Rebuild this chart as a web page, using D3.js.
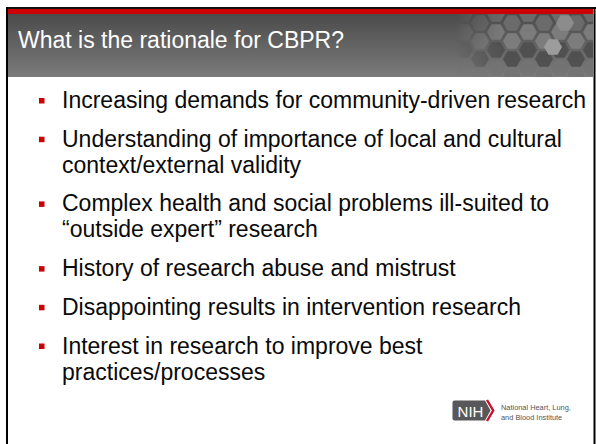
<!DOCTYPE html>
<html><head><meta charset="utf-8">
<script src="https://cdn.jsdelivr.net/npm/d3@7"></script>
<style>html,body{margin:0;padding:0;background:#fff;overflow:hidden}</style>
</head><body>
<svg id="s" width="596" height="444"></svg>
<script>
const title = "What is the rationale for CBPR?";
const bullets = [
  ["Increasing demands for community-driven research"],
  ["Understanding of importance of local and cultural", "context/external validity"],
  ["Complex health and social problems ill-suited to", "\u201Coutside expert\u201D research"],
  ["History of research abuse and mistrust"],
  ["Disappointing results in intervention research"],
  ["Interest in research to improve best", "practices/processes"]
];
const logoLines = ["National Heart, Lung,", "and Blood Institute"];
const logoMark = "NIH";

const svg = d3.select("#s");
const defs = svg.append("defs");
const g = defs.append("linearGradient").attr("id","hdr").attr("x1",0).attr("y1",0).attr("x2",0).attr("y2",1);
g.append("stop").attr("offset","0%").attr("stop-color","#4b4b4b");
g.append("stop").attr("offset","100%").attr("stop-color","#7b7b7b");
const fade = defs.append("linearGradient").attr("id","fade").attr("x1",0).attr("y1",0).attr("x2",1).attr("y2",0);
fade.append("stop").attr("offset","0%").attr("stop-color","#fff").attr("stop-opacity",0);
fade.append("stop").attr("offset","100%").attr("stop-color","#fff").attr("stop-opacity",1);
const mask = defs.append("mask").attr("id","hm");
mask.append("rect").attr("x",455).attr("y",14).attr("width",50).attr("height",63).attr("fill","url(#fade)");
mask.append("rect").attr("x",505).attr("y",14).attr("width",95).attr("height",63).attr("fill","#fff");
const clip = defs.append("clipPath").attr("id","hc");
clip.append("rect").attr("x",8).attr("y",14).attr("width",585).attr("height",63);

svg.append("rect").attr("x",8).attr("y",14).attr("width",585).attr("height",63).attr("fill","url(#hdr)");

// hexagons
const hexR = 10;
const hexPts = (cx,cy,r) => d3.range(6).map(i => { const a = Math.PI/3*i; return [cx + r*Math.cos(a), cy + r*Math.sin(a)]; });
const hexData = [];
const shades = ["#6e6e6e","#5a5a5a","#7c7c7c","#545454","#8a8a8a","#666","#737373","#4e4e4e","#7f7f7f"];
let k = 0;
for (let c = 0; c < 10; c++) {
  for (let r = 0; r < 5; r++) {
    const cx = 464 + c*hexR*1.6;
    const cy = 14 + r*hexR*1.8 + (c%2 ? hexR*0.9 : 0);
    hexData.push({cx, cy, f: shades[(c*4 + r*7 + k++) % shades.length]});
  }
}
const hg = svg.append("g").attr("clip-path","url(#hc)").attr("mask","url(#hm)");
hg.selectAll("polygon").data(hexData).join("polygon")
  .attr("points", d => hexPts(d.cx, d.cy, hexR*0.9).map(p => p.join(",")).join(" "))
  .attr("fill", d => d.f).attr("opacity", 0.9);
hg.append("polygon").attr("points", hexPts(553, 47, 9).map(p=>p.join(",")).join(" ")).attr("fill","#9c9c9c");
hg.append("polygon").attr("points", hexPts(565, 23, 9).map(p=>p.join(",")).join(" ")).attr("fill","#8c8c8c");

// red bar and borders
svg.append("rect").attr("x",8).attr("y",9).attr("width",585).attr("height",5).attr("fill","#cc0000");
svg.append("line").attr("x1",6).attr("x2",596).attr("y1",8).attr("y2",8).attr("stroke","#111").attr("stroke-width",2);
svg.append("line").attr("x1",7).attr("x2",7).attr("y1",7).attr("y2",444).attr("stroke","#000").attr("stroke-width",2);
svg.append("line").attr("x1",594.5).attr("x2",594.5).attr("y1",7).attr("y2",444).attr("stroke","#000").attr("stroke-width",2);

// title
svg.append("text").attr("x",18).attr("y",48).text(title)
  .attr("font-family","'Liberation Sans', Arial, sans-serif").attr("font-size",23).attr("fill","#fff");

// bullets
const lineH = 26, paraGap = 12.7;
let y = 108;
const bg = svg.append("g").attr("font-family","'Liberation Sans', Arial, sans-serif").attr("font-size",23).attr("fill","#0a0a0a");
bullets.forEach(lines => {
  svg.append("rect").attr("x",39).attr("y",y-10).attr("width",5.5).attr("height",5.5).attr("fill","#cc0000");
  lines.forEach((ln,i) => {
    bg.append("text").attr("x",62).attr("y",y + i*lineH).text(ln);
  });
  y += (lines.length-1)*lineH + lineH + paraGap;
});

// NIH logo
const lg = svg.append("g");
lg.append("path").attr("d","M454.5,400.5 L485,400.5 L490.5,410.5 L485,420.5 L454.5,420.5 Q452.5,420.5 452.5,418.5 L452.5,402.5 Q452.5,400.5 454.5,400.5 Z").attr("fill","#58585a");
lg.append("path").attr("d","M487,400 L493.2,410.5 L487,421").attr("fill","none").attr("stroke","#c8102e").attr("stroke-width",2.4);
lg.append("text").attr("x",470.5).attr("y",416.8).attr("text-anchor","middle").text(logoMark)
  .attr("font-family","'Liberation Sans', Arial, sans-serif").attr("font-size",15).attr("fill","#fff");
logoLines.forEach((t,i) => lg.append("text").attr("x",501).attr("y",409.5 + i*10).text(t)
  .attr("font-family","'Liberation Sans', Arial, sans-serif").attr("font-size",7.4).attr("fill","#555"));
</script>
</body></html>
